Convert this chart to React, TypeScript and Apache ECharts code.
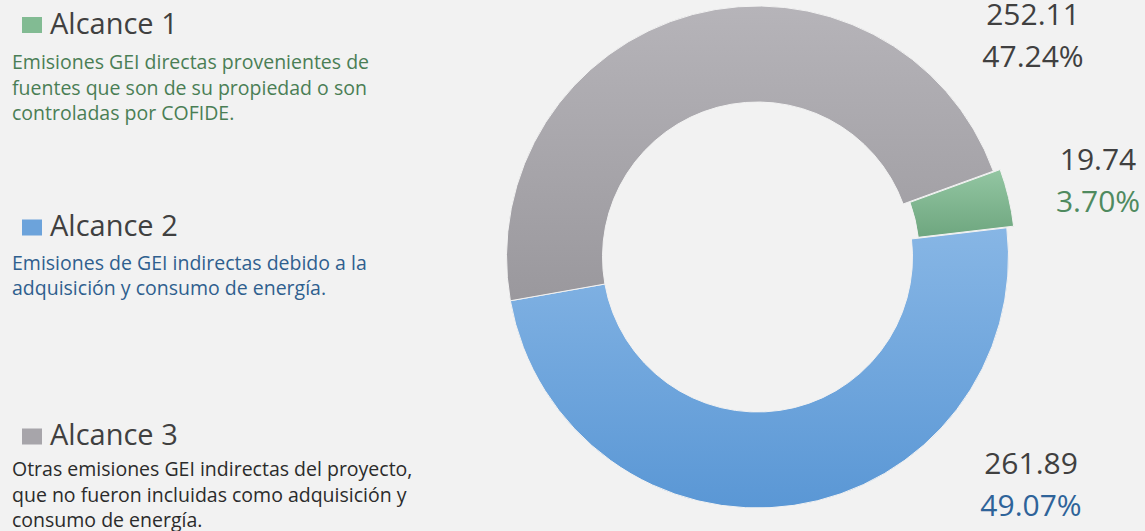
import React, { useEffect, useRef } from "react";
import * as echarts from "echarts";

const categories = ["Alcance 1", "Alcance 2", "Alcance 3"];
const values = [19.74, 261.89, 252.11];
const percentLabels = ["3.70%", "49.07%", "47.24%"];
const descriptions = [
  ["Emisiones GEI directas provenientes de", "fuentes que son de su propiedad o son", "controladas por COFIDE."],
  ["Emisiones de GEI indirectas debido a la", "adquisición y consumo de energía."],
  ["Otras emisiones GEI indirectas del proyecto,", "que no fueron incluidas como adquisición y", "consumo de energía."],
];

const FONT = "'Open Sans', 'Noto Sans', sans-serif";
const sliceTop = ["#93c6a2", "#87b6e5", "#b6b4b9"];
const sliceBottom = ["#6ea67f", "#5a97d5", "#9a989d"];
const markerColors = ["#82bb93", "#6ca3db", "#a7a5aa"];
const descColors = ["#4a7e55", "#2f5f8e", "#2b2b2b"];
const pctColors = ["#4f8a5f", "#2e6399", "#404040"];
const titleY = [22, 224.5, 433.5];
const descY = [61.5, 262, 468.5];
const labelPos: [number, number][] = [
  [1098, 179],
  [1031, 483],
  [1033, 34],
];
const CENTER = [757.5, 257];
const START_ANGLE = 20;
const EXPLODE = 7;

export default function App() {
  const ref = useRef<HTMLDivElement>(null);
  useEffect(() => {
    document.body.style.margin = "0";
    const chart = echarts.init(ref.current!, null, { renderer: "svg" });
    const graphics: any[] = [];
    categories.forEach((name, i) => {
      const ty = titleY[i];
      graphics.push({
        type: "rect",
        shape: { x: 22, y: ty - 5, width: 20, height: 16 },
        style: { fill: markerColors[i] },
      });
      graphics.push({
        type: "text",
        x: 50,
        y: ty,
        style: { text: name, font: `29px ${FONT}`, fill: "#404040", verticalAlign: "middle", align: "left" },
      });
      descriptions[i].forEach((line, j) => {
        graphics.push({
          type: "text",
          x: 12,
          y: descY[i] + j * 25.5,
          style: { text: line, font: `19.5px ${FONT}`, fill: descColors[i], verticalAlign: "middle", align: "left" },
        });
      });
    });

    const rich: any = { v: { fontSize: 30, lineHeight: 42, color: "#404040", fontFamily: FONT } };
    pctColors.forEach((c, i) => {
      rich["p" + i] = { fontSize: 30, lineHeight: 42, color: c, fontFamily: FONT };
    });

    // explode offset for the first slice (computed from its share of the total)
    const total = values.reduce((a, b) => a + b, 0);
    const midDeg = START_ANGLE - (values[0] / total) * 180;
    const midRad = (midDeg * Math.PI) / 180;
    const center2 = [CENTER[0] + EXPLODE * Math.cos(midRad), CENTER[1] - EXPLODE * Math.sin(midRad)];

    const makeSeries = (center: number[], shown: (i: number) => boolean) => ({
      type: "pie",
      center,
      radius: [155, 251],
      startAngle: START_ANGLE,
      clockwise: true,
      silent: true,
      emphasis: { disabled: true },
      label: {
        show: true,
        position: "outside",
        overflow: "none",
        formatter: (p: any) => `{v|${p.value.toFixed(2)}}\n{p${p.dataIndex}|${percentLabels[p.dataIndex]}}`,
        rich,
      },
      labelLine: { show: false },
      labelLayout: (params: any) => {
        const pos = labelPos[params.dataIndex];
        return { x: pos[0], y: pos[1], align: "center", verticalAlign: "middle" };
      },
      data: categories.map((name, i) => ({
        name,
        value: values[i],
        label: { show: shown(i) },
        itemStyle: shown(i)
          ? {
              borderColor: "#f2f2f2",
              borderWidth: 1,
              color: new echarts.graphic.LinearGradient(0, 0, 0, 1, [
                { offset: 0, color: sliceTop[i] },
                { offset: 1, color: sliceBottom[i] },
              ]),
            }
          : { color: "rgba(0,0,0,0)", borderWidth: 0 },
      })),
    });

    chart.setOption({
      animation: false,
      backgroundColor: "#f2f2f2",
      graphic: graphics,
      series: [makeSeries(CENTER, (i) => i !== 0), makeSeries(center2, (i) => i === 0)],
    });
    return () => chart.dispose();
  }, []);
  return <div ref={ref} style={{ width: 1145, height: 531 }} />;
}
